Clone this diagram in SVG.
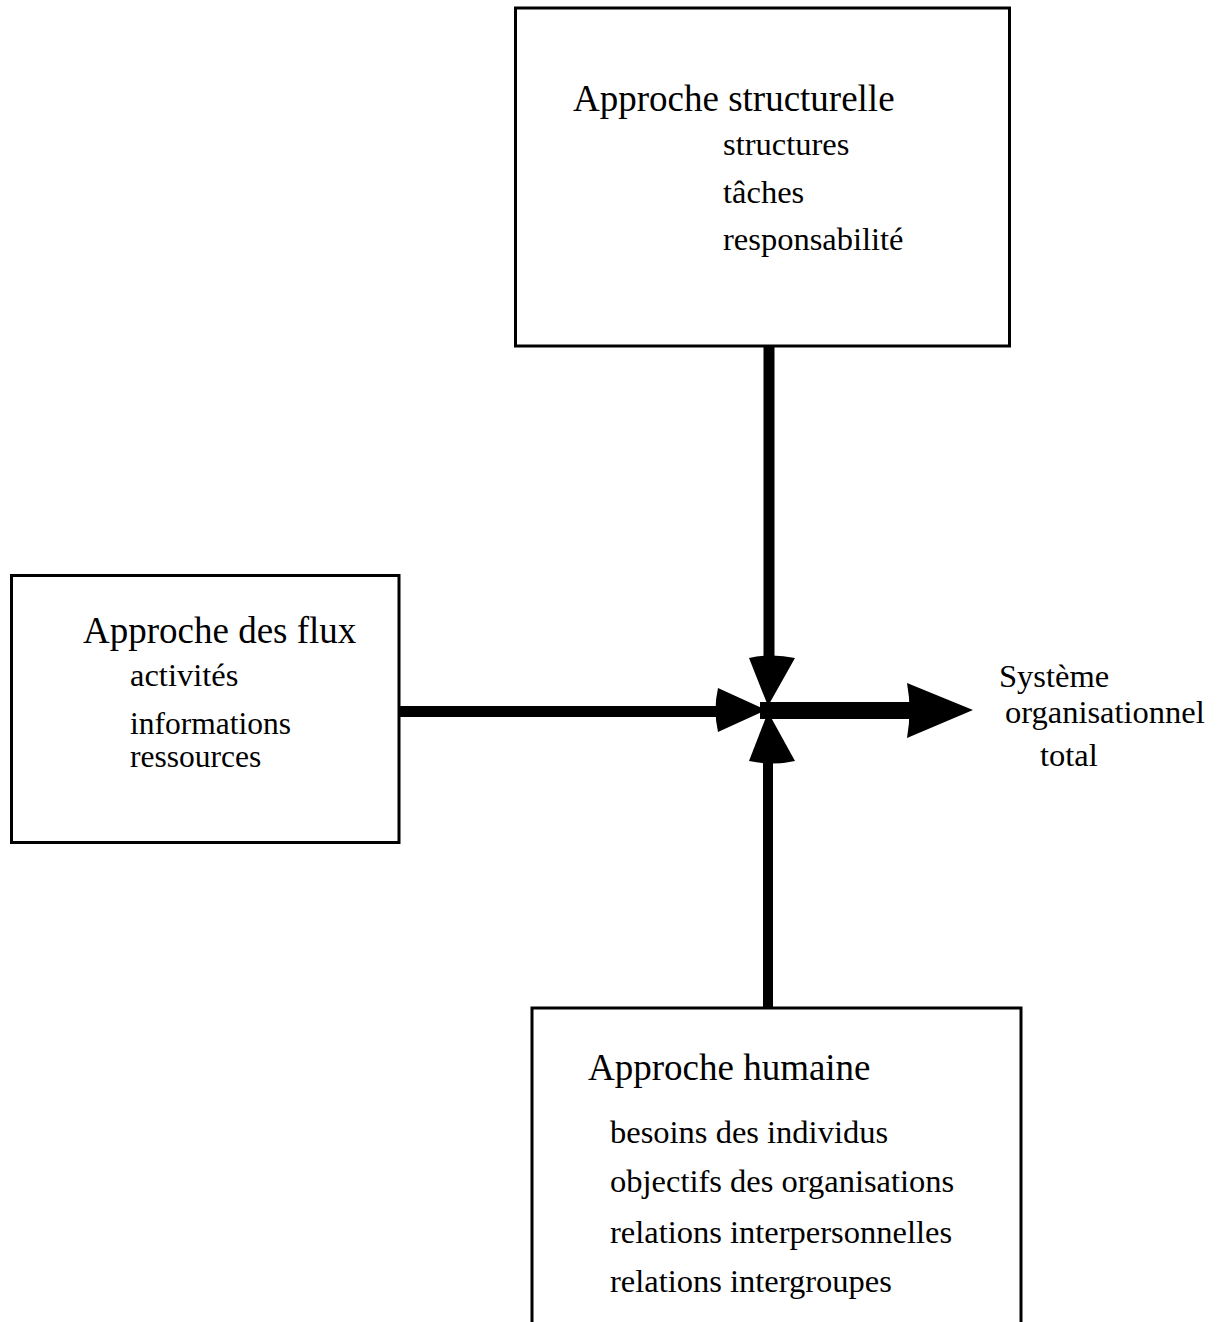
<svg xmlns="http://www.w3.org/2000/svg" width="1219" height="1322" viewBox="0 0 1219 1322">
  <style>
    .box { fill: #ffffff; stroke: #000000; stroke-width: 3; }
    .title { font-family: "Liberation Serif", "Times New Roman", serif; font-size: 37px; fill: #000000; }
    .item { font-family: "Liberation Serif", "Times New Roman", serif; font-size: 32.5px; fill: #000000; }
    .tight { font-size: 31.5px; }
    .bar { fill: #000000; }
    .head { fill: #000000; }
  </style>
  <rect width="1219" height="1322" fill="#ffffff"/>

  <!-- connectors: four bars meeting at the centre, arrowheads converging, output arrow to the right -->
  <g id="connectors">
    <rect class="bar" x="763.5" y="346" width="11" height="314"/>
    <rect class="bar" x="763" y="759" width="10" height="250"/>
    <rect class="bar" x="399" y="706" width="321" height="11"/>
    <rect class="bar" x="760" y="702" width="150" height="17"/>
    <!-- down-pointing head from the top box -->
    <path class="head" d="M749,658 Q772,653 795,658 L768,706 Z"/>
    <!-- up-pointing head from the bottom box -->
    <path class="head" d="M749,761 Q772,766 795,761 L768,712 Z"/>
    <!-- right-pointing head from the left box -->
    <path class="head" d="M718,688 Q713,710 718,732 L766,710 Z"/>
    <!-- output arrowhead -->
    <path class="head" d="M907,683 Q912,710 907,738 L973,710 Z"/>
  </g>

  <g id="node-structurelle">
    <rect class="box" x="515.5" y="8" width="494" height="338"/>
    <text class="title" x="573" y="111">Approche structurelle</text>
    <text class="item" x="723" y="155">structures</text>
    <text class="item" x="723" y="203">tâches</text>
    <text class="item" x="723" y="250">responsabilité</text>
  </g>

  <g id="node-flux">
    <rect class="box" x="11.5" y="575.5" width="387.5" height="267"/>
    <text class="title" x="83" y="643">Approche des flux</text>
    <text class="item" x="130" y="686">activités</text>
    <text class="item tight" x="130" y="734">informations</text>
    <text class="item tight" x="130" y="767">ressources</text>
  </g>

  <g id="node-humaine">
    <rect class="box" x="532" y="1008" width="489" height="400"/>
    <text class="title" x="588" y="1080">Approche humaine</text>
    <text class="item" x="610" y="1143">besoins des individus</text>
    <text class="item" x="610" y="1192">objectifs des organisations</text>
    <text class="item" x="610" y="1243">relations interpersonnelles</text>
    <text class="item" x="610" y="1292">relations intergroupes</text>
  </g>

  <g id="node-systeme">
    <text class="item" x="999" y="687">Système</text>
    <text class="item" x="1005" y="723">organisationnel</text>
    <text class="item" x="1040" y="766">total</text>
  </g>
</svg>
